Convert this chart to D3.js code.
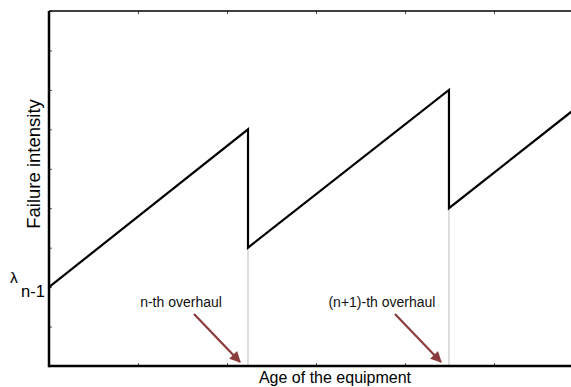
<!DOCTYPE html>
<html>
<head>
<meta charset="utf-8">
<script src="https://cdn.jsdelivr.net/npm/d3@7"></script>
<style>
  html, body { margin: 0; padding: 0; background: #fff; }
  svg { display: block; }
  text { font-family: "Liberation Sans", Arial, sans-serif; }
</style>
</head>
<body>
<svg id="chart" width="571" height="387"></svg>
<script>
// ---- data ----
const xTicks = [0, 1, 2, 3, 4, 5, 6];
const yTicks = [0, 1, 2, 3, 4, 5, 6, 7, 8, 9];
const ageValues = [0, 2.236, 2.236, 4.494, 4.494, 6.0];
const intensityValues = [2, 6, 3, 7, 4, 6.68];
const overhaulAges = [2.236, 4.494];
const overhaulLows = [3, 4];
const overhaulLabels = ["n-th overhaul", "(n+1)-th overhaul"];
const startLabelMain = "λ";
const startLabelSub = "n-1";
const startValue = 2;
const xLabel = "Age of the equipment";
const yLabel = "Failure intensity";

// ---- layout ----
const svg = d3.select("#chart");
const mLeft = 49, mTop = 11, mBottom = 366;
const x = d3.scaleLinear().domain([0, 6]).range([mLeft, mLeft + 6 * 89]);
const y = d3.scaleLinear().domain([0, 9]).range([mBottom, mTop]);

svg.append("defs").append("marker")
  .attr("id", "arrow").attr("viewBox", "0 0 10 10")
  .attr("refX", 9).attr("refY", 5)
  .attr("markerWidth", 5.5).attr("markerHeight", 5)
  .attr("orient", "auto")
  .append("path").attr("d", "M0,0 L10,5 L0,10 z").attr("fill", "#8a3b3b");

// ticks
const axB = svg.append("g").attr("transform", `translate(0,${mBottom})`)
  .call(d3.axisBottom(x).tickValues(xTicks).tickSize(-3).tickFormat(""));
const axT = svg.append("g").attr("transform", `translate(0,${mTop})`)
  .call(d3.axisTop(x).tickValues(xTicks).tickSize(-3).tickFormat(""));
const axL = svg.append("g").attr("transform", `translate(${mLeft},0)`)
  .call(d3.axisLeft(y).tickValues(yTicks).tickSize(-3).tickFormat(""));
[axB, axT, axL].forEach(g => {
  g.select(".domain").remove();
  g.selectAll(".tick line").attr("stroke", "#555").attr("stroke-width", 1);
});

// gray overhaul lines
svg.selectAll(".ovl").data(overhaulAges).join("line")
  .attr("x1", d => x(d)).attr("x2", d => x(d))
  .attr("y1", (d, i) => y(overhaulLows[i])).attr("y2", y(0))
  .attr("stroke", "#bdbdbd").attr("stroke-width", 1);

// frame
svg.append("line").attr("x1", mLeft).attr("x2", 571).attr("y1", mTop).attr("y2", mTop)
  .attr("stroke", "#000").attr("stroke-width", 1.5);
svg.append("line").attr("x1", mLeft).attr("x2", 571).attr("y1", mBottom).attr("y2", mBottom)
  .attr("stroke", "#000").attr("stroke-width", 2.5);
svg.append("line").attr("x1", mLeft).attr("x2", mLeft).attr("y1", mTop).attr("y2", mBottom + 1.25)
  .attr("stroke", "#000").attr("stroke-width", 2.5);

// sawtooth line
const pts = ageValues.map((a, i) => [a, intensityValues[i]]);
svg.append("path").datum(pts)
  .attr("fill", "none").attr("stroke", "#000").attr("stroke-width", 2.2)
  .attr("stroke-linejoin", "miter")
  .attr("d", d3.line().x(d => x(d[0])).y(d => y(d[1])));

// annotations
overhaulAges.forEach((a, i) => {
  const px = x(a);
  svg.append("text").attr("x", px - 67).attr("y", 307)
    .attr("text-anchor", "middle").attr("font-size", 14).attr("fill", "#111")
    .text(overhaulLabels[i]);
  svg.append("line")
    .attr("x1", px - 54).attr("y1", 314)
    .attr("x2", px - 8).attr("y2", 362)
    .attr("stroke", "#8a3b3b").attr("stroke-width", 2.2)
    .attr("marker-end", "url(#arrow)");
});

// lambda label
const lt = svg.append("text").attr("x", 10).attr("y", y(startValue) - 4).attr("font-size", 15.5);
lt.append("tspan").text(startLabelMain);
lt.append("tspan").attr("x", 21).attr("dy", 14).attr("font-size", 16.5).text(startLabelSub);

// axis labels
svg.append("text").attr("x", (mLeft + 571) / 2 + 25).attr("y", 383)
  .attr("text-anchor", "middle").attr("font-size", 16).text(xLabel);
svg.append("text").attr("transform", `translate(40,${164}) rotate(-90)`)
  .attr("text-anchor", "middle").attr("font-size", 18.5).text(yLabel);
</script>
</body>
</html>
